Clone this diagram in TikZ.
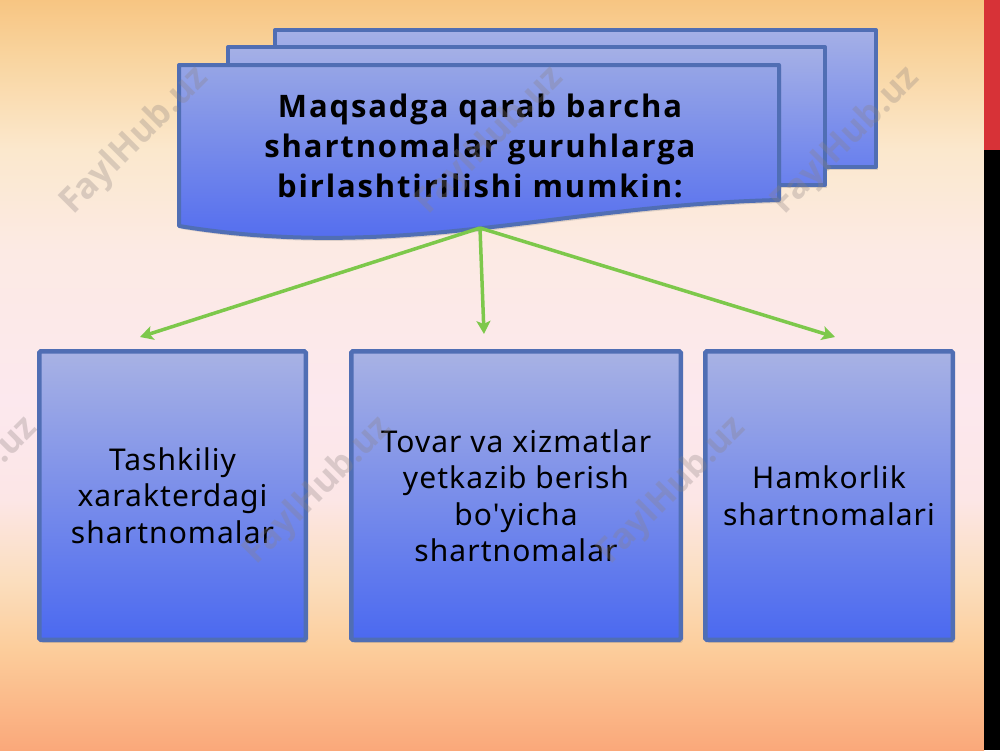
\documentclass[tikz,border=0pt]{standalone}
\usepackage{fontspec}
\setmainfont{Noto Sans}
\newfontfamily\boxfont[LetterSpace=3.5]{Noto Sans}
\newfontfamily\titlefont[LetterSpace=6]{Open Sans}
\newfontfamily\wmfont{Open Sans}
\usetikzlibrary{arrows.meta,shadows}
\definecolor{c0}{RGB}{247,197,130}
\definecolor{c60}{RGB}{249,213,160}
\definecolor{c150}{RGB}{251,232,205}
\definecolor{c250}{RGB}{252,234,228}
\definecolor{c400}{RGB}{252,232,238}
\definecolor{c500}{RGB}{252,230,230}
\definecolor{c580}{RGB}{251,222,190}
\definecolor{c650}{RGB}{252,205,155}
\definecolor{c750}{RGB}{250,168,122}
\pgfdeclareverticalshading{bgshade}{100bp}{color(0bp)=(c750); color(25bp)=(c750); color(31.7bp)=(c650); color(36.3bp)=(c580); color(41.7bp)=(c500); color(48.3bp)=(c400); color(58.3bp)=(c250); color(65bp)=(c150); color(71bp)=(c60); color(75bp)=(c0); color(100bp)=(c0)}
\definecolor{bcol}{RGB}{80,110,180}
\definecolor{btop}{RGB}{168,178,228}
\definecolor{bbot}{RGB}{75,105,240}
\definecolor{stop}{RGB}{165,176,230}
\definecolor{sbot}{RGB}{105,128,238}
\definecolor{ftop}{RGB}{150,165,230}
\definecolor{fbot}{RGB}{75,102,240}
\definecolor{arrgreen}{RGB}{125,200,75}
\definecolor{stripred}{RGB}{215,50,55}
\definecolor{wmgray}{RGB}{140,130,130}
\begin{document}
\begin{tikzpicture}[x=1pt,y=-1pt,
  box/.style={draw=bcol,line width=4.5pt,top color=btop,bottom color=bbot,
    rounded corners=1.5pt,
    drop shadow={shadow xshift=2pt,shadow yshift=-3pt,opacity=0.3},
    align=center,text=black,inner sep=0pt,
    font=\boxfont\fontsize{30}{36.5}\selectfont},
  sheet/.style={draw=bcol,line width=4pt,line join=round,
    drop shadow={shadow xshift=2pt,shadow yshift=-3pt,opacity=0.25}},
  arr/.style={draw=arrgreen,line width=3.5pt,
    -{Stealth[length=13pt,width=14pt,inset=3pt]}},
  wm/.style={text=wmgray,opacity=0.3,rotate=45,
    font=\wmfont\bfseries\fontsize{35}{40}\selectfont}]
\useasboundingbox (0,0) rectangle (1000,750);
% background
\shade[shading=bgshade] (0,0) rectangle (984,750);
\fill[stripred] (984,0) rectangle (1000,150);
\fill[black] (984,150) rectangle (1000,750);
% multidocument
\path[sheet,top color=stop,bottom color=sbot] (275,30) rectangle (876,167);
\path[sheet,top color=stop,bottom color=sbot] (228,47) rectangle (825,185);
\path[sheet,top color=ftop,bottom color=fbot] (179,65) -- (779,65) -- (779,200)
  .. controls (560,205) and (400,262) .. (179,226) -- cycle;
\node[align=center,text=black,font=\titlefont\bfseries\fontsize{31}{40}\selectfont]
  (title) at (480,146) {Maqsadga qarab barcha\\shartnomalar guruhlarga\\birlashtirilishi mumkin:};
\coordinate (src) at (480,228);
% boxes
\node[box,minimum width=266.5pt,minimum height=288.5pt] (b1) at (172.5,495.5)
  {Tashkiliy\\xarakterdagi\\shartnomalar};
\node[box,minimum width=329.5pt,minimum height=288.5pt] (b2) at (516,495.5)
  {Tovar va xizmatlar\\yetkazib berish\\bo'yicha\\shartnomalar};
\node[box,minimum width=247.5pt,minimum height=288.5pt] (b3) at (829,495.5)
  {Hamkorlik\\shartnomalari};
% arrows
\coordinate (e1) at (140,337);
\coordinate (e2) at (484,334);
\coordinate (e3) at (835,337);
\draw[arr] (src) -- (e1);
\draw[arr] (src) -- (e2);
\draw[arr] (src) -- (e3);
% watermarks
\node[wm] (w1) at (135,141) {FaylHub.uz};
\node[wm] (w2) at (490,141) {FaylHub.uz};
\node[wm] (w3) at (846,141) {FaylHub.uz};
\node[wm] (w4) at (-36,491) {FaylHub.uz};
\node[wm] (w5) at (318,491) {FaylHub.uz};
\node[wm] (w6) at (672,491) {FaylHub.uz};
\end{tikzpicture}
\end{document}
